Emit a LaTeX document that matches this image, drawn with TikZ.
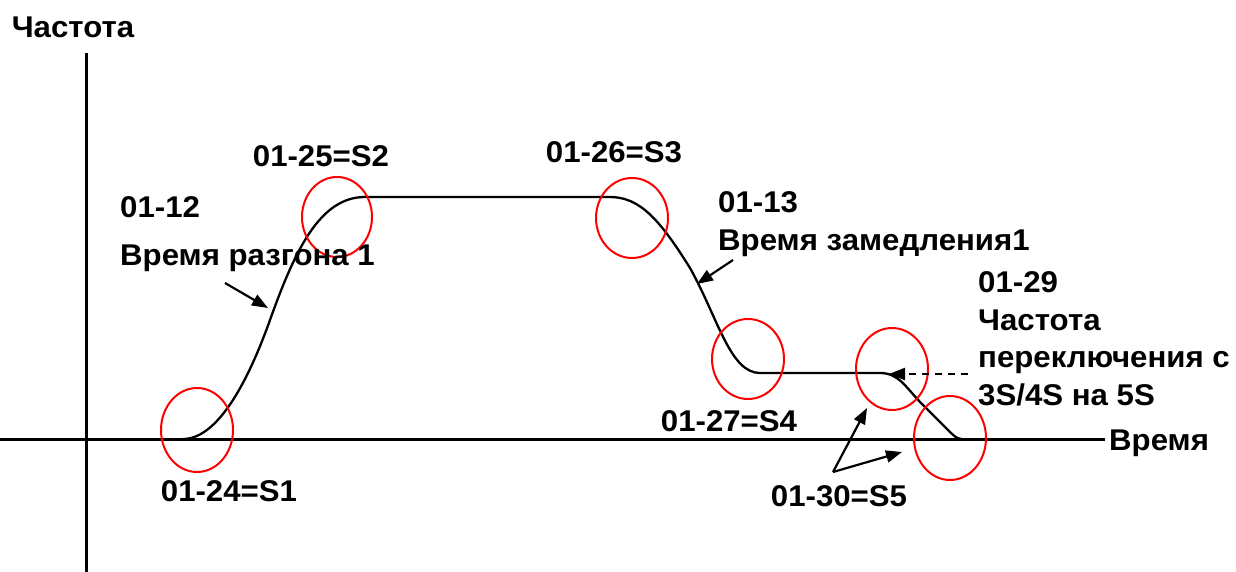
\documentclass[tikz,border=0pt]{standalone}
\usepackage{fontspec}
\setmainfont{Liberation Sans}[FakeStretch=1.04]
\usetikzlibrary{arrows.meta}
\tikzset{
  lbl/.style={font=\fontsize{30}{36}\selectfont\bfseries, inner sep=0pt},
  axisline/.style={line width=3pt, black},
  curveline/.style={line width=2.3pt, black},
  ring/.style={line width=2pt, red},
  ptr/.style={line width=2.2pt, -{Triangle[length=16pt,width=12pt]}},
}
\begin{document}
\begin{tikzpicture}[x=1pt,y=-1pt]
\useasboundingbox (0,0) rectangle (1236,572);
% axes
\coordinate (yb) at (86,572);
\coordinate (yt) at (86,53);
\coordinate (xl) at (0,439);
\coordinate (xr) at (1105,439);
\draw[axisline] (yb) -- (yt);
\draw[axisline] (xl) -- (xr);
\node[lbl] (ylab) at (73,27) {Частота};
\node[lbl, anchor=base west] (xlab) at (1109,450) {Время};
% curve points
\coordinate (p0) at (183,439);
\coordinate (p1) at (270,320);
\coordinate (p2) at (365,197);
\coordinate (p3) at (610,197);
\coordinate (p4) at (690,268);
\coordinate (p5) at (760,373);
\coordinate (p6) at (880,373);
\coordinate (p7) at (920,402);
\coordinate (p8) at (948,430);
\coordinate (p9) at (962,439);
\draw[curveline] (p0) .. controls (215,439) and (245,390) .. (p1)
  .. controls (295,250) and (320,197) .. (p2) -- (p3)
  .. controls (640,197) and (660,220) .. (p4)
  .. controls (718,318) and (730,373) .. (p5) -- (p6)
  .. controls (898,373) and (905,386) .. (p7) -- (p8)
  .. controls (954,436) and (957,439) .. (p9);
% red rings
\draw[ring] (197,430) ellipse [x radius=36, y radius=42];
\draw[ring] (337,217) ellipse [x radius=35, y radius=40];
\draw[ring] (632,218) ellipse [x radius=36, y radius=40];
\draw[ring] (748,359) ellipse [x radius=36, y radius=40];
\draw[ring] (892,369) ellipse [x radius=36, y radius=41];
\draw[ring] (950,438) ellipse [x radius=36, y radius=42];
% labels
\node[lbl] (s1) at (229,491) {01-24=S1};
\node[lbl] (s2) at (321,156) {01-25=S2};
\node[lbl] (s3) at (614,152) {01-26=S3};
\node[lbl] (s4) at (729,421) {01-27=S4};
\node[lbl] (s5) at (839,496) {01-30=S5};
\node[lbl, anchor=base west] (acc1) at (120,218) {01-12};
\node[lbl, anchor=base west] (acc2) at (120,265) {Время разгона 1};
\node[lbl, anchor=base west] (dec1) at (718,212) {01-13};
\node[lbl, anchor=base west] (dec2) at (718,250) {Время замедления1};
\node[lbl, anchor=base west] (sw1) at (978,292) {01-29};
\node[lbl, anchor=base west] (sw2) at (978,330) {Частота};
\node[lbl, anchor=base west] (sw3) at (978,367) {переключения с};
\node[lbl, anchor=base west] (sw4) at (978,405) {3S/4S на 5S};
% pointers
\coordinate (a1s) at (225,283);
\coordinate (a1e) at (268,308);
\draw[ptr] (a1s) -- (a1e);
\coordinate (a2s) at (733,260);
\coordinate (a2e) at (697,284);
\draw[ptr] (a2s) -- (a2e);
\coordinate (a3s) at (968,374);
\coordinate (a3e) at (889,374);
\draw[line width=2.2pt, dash pattern=on 7pt off 6pt] (a3s) -- (904,374);
\draw[ptr] (905,374) -- (a3e);
\coordinate (a4s) at (833,472);
\coordinate (a4e) at (867,408);
\coordinate (a5e) at (902,452);
\draw[ptr] (a4s) -- (a4e);
\draw[ptr] (a4s) -- (a5e);
\end{tikzpicture}
\end{document}
